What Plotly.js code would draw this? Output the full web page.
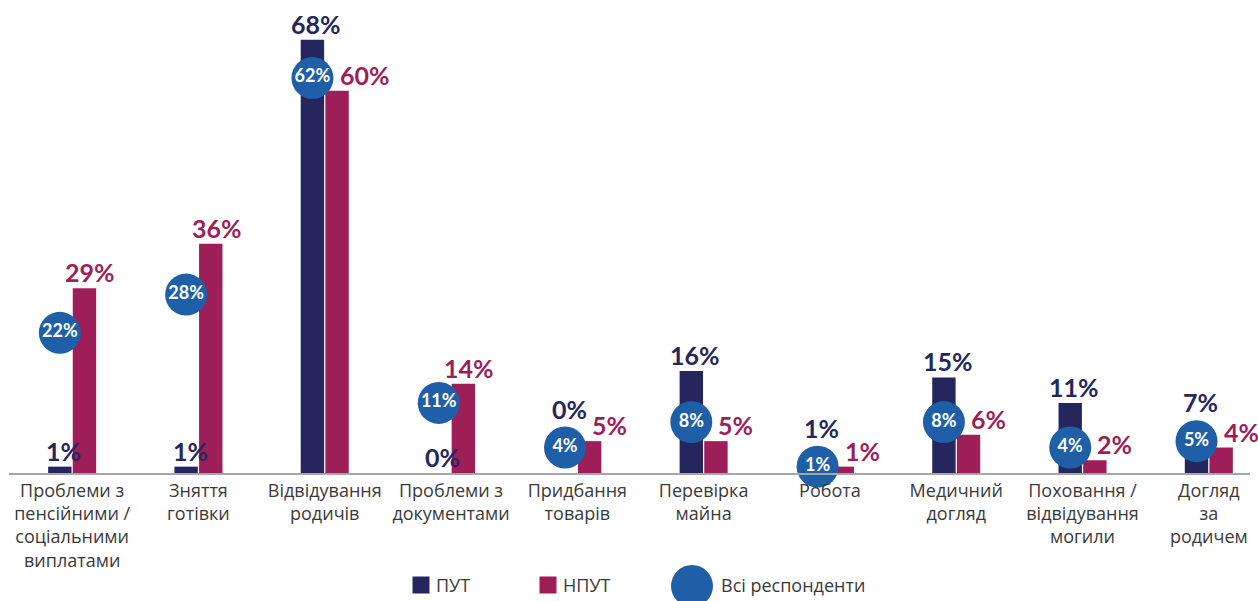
<!DOCTYPE html>
<html>
<head>
<meta charset="utf-8">
<script src="https://cdn.plot.ly/plotly-3.0.1.min.js"></script>
<style>html,body{margin:0;padding:0;background:#fff;}#chart{width:1258px;height:601px;}</style>
</head>
<body>
<div id="chart"></div>
<script>
// ---- data ----
const categories = [
  'Проблеми з<br>пенсійними /<br>соціальними<br>виплатами',
  'Зняття<br>готівки',
  'Відвідування<br>родичів',
  'Проблеми з<br>документами',
  'Придбання<br>товарів',
  'Перевірка<br>майна',
  'Робота',
  'Медичний<br>догляд',
  'Поховання /<br>відвідування<br>могили',
  'Догляд<br>за<br>родичем'
];
const seriesNames = ['ПУТ', 'НПУТ', 'Всі респонденти'];
const put  = [1, 1, 68, 0, 0, 16, 1, 15, 11, 7];
const nput = [29, 36, 60, 14, 5, 5, 1, 6, 2, 4];
const all  = [22, 28, 62, 11, 4, 8, 1, 8, 4, 5];

// ---- style / layout constants ----
const C_PUT = '#25265e', C_NPUT = '#9e1f57', C_ALL = '#1f5fa8', C_TXT = '#3a3a3a';
const FONT_B = 'Lato, "Open Sans", sans-serif';
const FONT_T = '"Open Sans", "Noto Sans", sans-serif';
const W = 1258, H = 601;
const M = {l: 9, r: 8, t: 20, b: 128, pad: 0};
const plotW = W - M.l - M.r, plotH = H - M.t - M.b;
const xRange = [-0.5, 9.326], yRange = [0, 71.1];
const pxX = plotW / (xRange[1] - xRange[0]);
const pxY = plotH / (yRange[1] - yRange[0]);
const BARGAP = 0.61, GROUPGAP = 0.05;
const slot = (1 - BARGAP) / 2, off = slot / 2;
const R = 21; // circle radius px
const idx = categories.map((_, i) => i);
const pct = v => v + '%';

const traces = [
  {type: 'bar', name: seriesNames[0], x: idx, y: put, marker: {color: C_PUT}, hoverinfo: 'skip', showlegend: false},
  {type: 'bar', name: seriesNames[1], x: idx, y: nput, marker: {color: C_NPUT}, hoverinfo: 'skip', showlegend: false},
  {type: 'scatter', mode: 'markers+text', name: seriesNames[2], x: idx.map(i => i - off), y: all,
   text: all.map(pct), textposition: 'middle center',
   textfont: {family: FONT_B, size: 18, color: '#ffffff', weight: 'bold'},
   marker: {size: 2 * R, color: C_ALL, line: {width: 0}}, cliponaxis: false, hoverinfo: 'skip', showlegend: false}
];

// ---- data labels with simple collision avoidance against the circles ----
const annotations = [];
const charW = 16.5, halfH = 11, GAP = 7;
idx.forEach(i => {
  const cx = (i - off) * pxX, cy = all[i] * pxY;
  // ПУТ label
  let ly = put[i] * pxY + 16;
  if (Math.abs(ly - cy) < R + halfH) ly = cy + R + 18;
  annotations.push({x: i - off, y: 0, yshift: ly, xshift: 4, text: pct(put[i]), showarrow: false,
    xanchor: 'center', yanchor: 'middle', font: {family: FONT_B, size: 25, color: C_PUT, weight: 'bold'}});
  // НПУТ label
  const txt = pct(nput[i]);
  const halfW = txt.length * charW / 2;
  let lx = (i + off) * pxX + 6;
  const ny = nput[i] * pxY + 16;
  if (Math.abs(ny - cy) < R + halfH && lx - halfW < cx + R + GAP) lx = cx + R + GAP + halfW;
  annotations.push({x: i + off, y: 0, yshift: ny, xshift: lx - (i + off) * pxX, text: txt, showarrow: false,
    xanchor: 'center', yanchor: 'middle', font: {family: FONT_B, size: 25, color: C_NPUT, weight: 'bold'}});
});

// ---- custom legend (pixel positions converted to paper) ----
const px2paperX = px => (px - M.l) / plotW;
const px2paperY = py => (H - M.b - py) / plotH;
const legY = 585;
const shapes = [
  {type: 'rect', xref: 'paper', yref: 'paper', xsizemode: 'pixel', ysizemode: 'pixel',
   xanchor: px2paperX(421), yanchor: px2paperY(legY), x0: -8.5, x1: 8.5, y0: -8.5, y1: 8.5,
   fillcolor: C_PUT, line: {width: 0}},
  {type: 'rect', xref: 'paper', yref: 'paper', xsizemode: 'pixel', ysizemode: 'pixel',
   xanchor: px2paperX(548), yanchor: px2paperY(legY), x0: -8.5, x1: 8.5, y0: -8.5, y1: 8.5,
   fillcolor: C_NPUT, line: {width: 0}},
  {type: 'circle', xref: 'paper', yref: 'paper', xsizemode: 'pixel', ysizemode: 'pixel',
   xanchor: px2paperX(692), yanchor: px2paperY(legY + 1), x0: -R, x1: R, y0: -R, y1: R,
   fillcolor: C_ALL, line: {width: 0}}
];
[[seriesNames[0], 434], [seriesNames[1], 561], [seriesNames[2], 719]].forEach(([t, x]) => {
  annotations.push({xref: 'paper', yref: 'paper', x: px2paperX(x), y: px2paperY(legY), text: t,
    showarrow: false, xanchor: 'left', yanchor: 'middle', font: {family: FONT_T, size: 18, color: C_TXT}});
});

const layout = {
  width: W, height: H, margin: M,
  paper_bgcolor: '#ffffff', plot_bgcolor: '#ffffff',
  barmode: 'group', bargap: BARGAP, bargroupgap: GROUPGAP,
  showlegend: false,
  xaxis: {range: xRange, tickmode: 'array', tickvals: idx, ticktext: categories,
    showgrid: false, zeroline: false, showline: true, linecolor: '#a6a6a6', linewidth: 2,
    ticks: '', tickfont: {family: FONT_T, size: 18, color: C_TXT}, fixedrange: true},
  yaxis: {range: yRange, visible: false, showgrid: false, zeroline: false, fixedrange: true},
  annotations: annotations, shapes: shapes
};
Plotly.newPlot('chart', traces, layout, {displayModeBar: false, staticPlot: true});
</script>
</body>
</html>
